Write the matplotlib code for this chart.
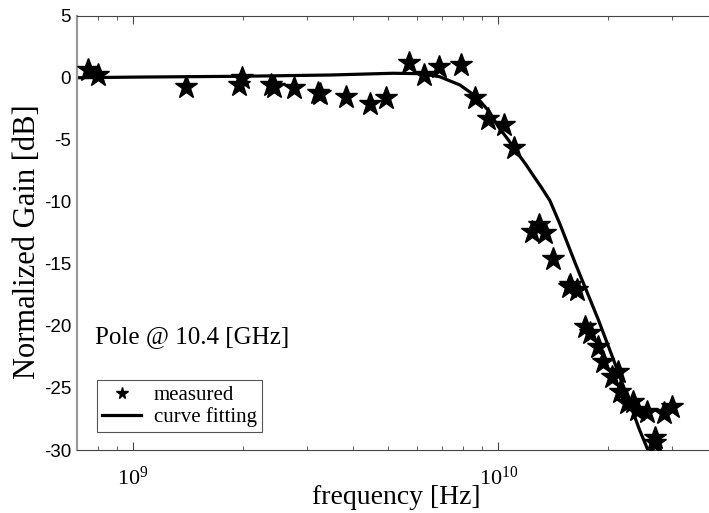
import matplotlib
matplotlib.use("Agg")
import matplotlib.pyplot as plt
from matplotlib.ticker import LogLocator, FixedLocator, NullFormatter

plt.rcParams['mathtext.fontset'] = 'custom'
plt.rcParams['mathtext.rm'] = 'Liberation Serif'
plt.rcParams['mathtext.it'] = 'Liberation Serif:italic'

SERIF = 'Liberation Serif'
SANS = 'Liberation Sans'

# measured response (frequency in Hz, normalized gain in dB)
meas_freq = [7.5e8, 7.99e8, 1.395e9, 1.99e9, 1.95e9, 2.38e9, 2.43e9, 2.76e9,
             3.2e9, 3.25e9, 3.83e9, 4.45e9, 4.94e9, 5.7e9, 6.27e9, 6.89e9,
             7.9e9, 8.64e9, 9.35e9, 1.04e10, 1.107e10, 1.295e10, 1.235e10,
             1.343e10, 1.416e10, 1.571e10, 1.64e10, 1.56e10, 1.728e10, 1.78e10,
             1.88e10, 1.94e10, 2.05e10, 2.13e10, 2.16e10, 2.25e10, 2.34e10,
             2.40e10, 2.55e10, 2.69e10, 2.69e10, 2.85e10, 3.0e10]
meas_gain = [0.63, 0.23, -0.72, -0.04, -0.58, -0.58, -0.72, -0.85,
             -1.2, -1.35, -1.52, -2.11, -1.65, 1.22, 0.23, 0.89,
             1.03, -1.65, -3.34, -3.8, -5.63, -11.86, -12.4,
             -12.53, -14.63, -16.7, -17.1, -16.9, -20.06, -20.59,
             -21.67, -22.88, -24.08, -23.68, -25.29, -26.23, -26.1,
             -26.77, -26.9, -29.0, -29.4, -27.0, -26.5]

# single-pole fit
fit_freq = [7.0e8, 1.0e9, 2.0e9, 3.46e9, 5.14e9, 6.1e9, 6.9e9, 7.85e9, 8.7e9,
            9.45e9, 1.0e10, 1.065e10, 1.13e10, 1.191e10, 1.252e10, 1.317e10,
            1.385e10, 1.476e10, 1.623e10, 1.88e10, 2.155e10, 2.44e10, 2.57e10]
fit_gain = [0.0, 0.05, 0.12, 0.22, 0.36, 0.33, 0.09, -0.58, -1.52,
            -2.73, -3.94, -5.0, -6.08, -7.0, -7.95, -8.9,
            -9.9, -11.8, -14.9, -19.5, -24.1, -28.4, -30.0]

y_ticks = [5, 0, -5, -10, -15, -20, -25, -30]
x_ticks = [1e9, 1e10]
x_tick_labels = ['$10^{9}$', '$10^{10}$']

fig = plt.figure(figsize=(7.09, 5.13), dpi=100)
ax = fig.add_axes([0.1082, 0.1228, 0.9045, 0.8466])

ax.plot(fit_freq, fit_gain, color='black', lw=2.3, label='curve fitting', zorder=2)
ax.plot(meas_freq, meas_gain, linestyle='none', marker='*', markersize=17,
        color='black', label='measured', zorder=3)

ax.set_xscale('log')
ax.set_xlim(7.0e8, 4.0e10)
ax.set_ylim(-30, 5)

ax.xaxis.set_major_locator(FixedLocator(x_ticks))
ax.set_xticklabels(x_tick_labels, fontsize=16)
ax.xaxis.set_minor_locator(LogLocator(base=10, subs=range(2, 10), numticks=20))
ax.xaxis.set_minor_formatter(NullFormatter())
ax.set_yticks(y_ticks)
ax.set_yticklabels([str(v) for v in y_ticks], family=SANS, fontsize=13.5)

ax.tick_params(axis='x', which='both', direction='in', top=True, bottom=True,
               color='#444444', pad=11)
ax.tick_params(axis='x', which='major', length=6)
ax.tick_params(axis='x', which='minor', length=3)
ax.tick_params(axis='y', which='both', direction='in', length=0, pad=4)

ax.spines['left'].set_color('#9a9a9a')
ax.spines['left'].set_linewidth(1.6)
ax.spines['bottom'].set_color('#444444')
ax.spines['top'].set_color('#444444')
ax.spines['right'].set_visible(False)

# axis titles
fig.text(0.559, 9 / 513, 'frequency [Hz]', family=SERIF, fontsize=20,
         ha='center', va='baseline')
fig.text(28 / 709, 1 - 242 / 513, 'Normalized Gain [dB]', family=SERIF,
         fontsize=22, ha='center', va='center', rotation=90)

ax.text(0.0285, -20.9, 'Pole @ 10.4 [GHz]', family=SERIF, fontsize=18,
        va='center', ha='left', transform=ax.get_yaxis_transform())

handles, labels = ax.get_legend_handles_labels()
leg = ax.legend(handles[::-1], labels[::-1], loc='lower left',
                bbox_to_anchor=(0.031, 0.041), borderaxespad=0,
                prop={'family': SERIF, 'size': 15},
                frameon=True, fancybox=False, edgecolor='#555555', framealpha=1,
                markerscale=0.5, handlelength=1.9, borderpad=0.25,
                labelspacing=0.1, handletextpad=0.6)
leg.get_frame().set_linewidth(0.8)

fig.savefig('out.png', dpi=100)
